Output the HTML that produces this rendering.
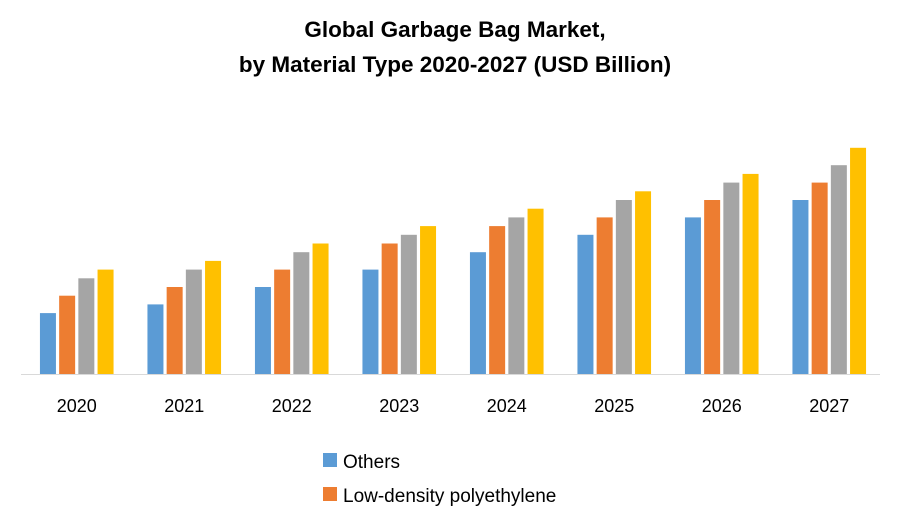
<!DOCTYPE html>
<html><head><meta charset="utf-8"><style>
html,body{margin:0;padding:0;background:#fff;}
svg{display:block;font-family:"Liberation Sans",sans-serif;}
</style></head><body>
<svg id="chart" width="900" height="525" viewBox="0 0 900 525">
<text x="455" y="37" text-anchor="middle" font-size="22.5" font-weight="bold" fill="#000">Global Garbage Bag Market,</text>
<text x="455" y="72" text-anchor="middle" font-size="22.5" font-weight="bold" fill="#000">by Material Type 2020-2027 (USD Billion)</text>
<g id="bars"></g>
<line x1="21" y1="374.5" x2="880" y2="374.5" stroke="#d9d9d9" stroke-width="1"/>
<g id="xlabels"></g>
<g>
<g>
<rect x="323" y="453" width="14" height="14" fill="#5B9BD5"/>
<text x="343" y="468" font-size="19" fill="#000">Others</text>
</g>
<g>
<rect x="323" y="487" width="14" height="14" fill="#ED7D31"/>
<text x="343" y="502" font-size="19" fill="#000">Low-density polyethylene</text>
</g>
</g>
</svg>
<script>
const categories = ["2020","2021","2022","2023","2024","2025","2026","2027"];
const others = [3.5,4.0,5.0,6.0,7.0,8.0,9.0,10.0];
const ldpe = [4.5,5.0,6.0,7.5,8.5,9.0,10.0,11.0];
const series3 = [5.5,6.0,7.0,8.0,9.0,10.0,11.0,12.0];
const series4 = [6.0,6.5,7.5,8.5,9.5,10.5,11.5,13.0];

const seriesList = [others, ldpe, series3, series4];
const seriesNames = ["others","ldpe","series3","series4"];
const colors = ["#5B9BD5","#ED7D31","#A5A5A5","#FFC000"];
const NS = "http://www.w3.org/2000/svg";
const plotLeft = 23, catW = 107.5, baseY = 374, pxPerUnit = 17.4;
const barW = 16, barStep = 19.2;
function xCenter(i){ return plotLeft + catW/2 + i*catW; }
function yScale(v){ return baseY - v*pxPerUnit; }
const gb = document.getElementById('bars');
const gl = document.getElementById('xlabels');
categories.forEach((c,i)=>{
  seriesList.forEach((s,j)=>{
    const r = document.createElementNS(NS,'rect');
    const x = xCenter(i) - 2*barStep + j*barStep + (barStep-barW)/2;
    const y = yScale(s[i]);
    r.setAttribute('x', x);
    r.setAttribute('y', y);
    r.setAttribute('width', barW);
    r.setAttribute('height', baseY - y);
    r.setAttribute('fill', colors[j]);
    
    
    gb.appendChild(r);
  });
  const t = document.createElementNS(NS,'text');
  t.setAttribute('x', xCenter(i));
  t.setAttribute('y', 412);
  t.setAttribute('text-anchor','middle');
  t.setAttribute('font-size','18');
  t.textContent = c;
  
  
  gl.appendChild(t);
});
</script>
</body></html>
